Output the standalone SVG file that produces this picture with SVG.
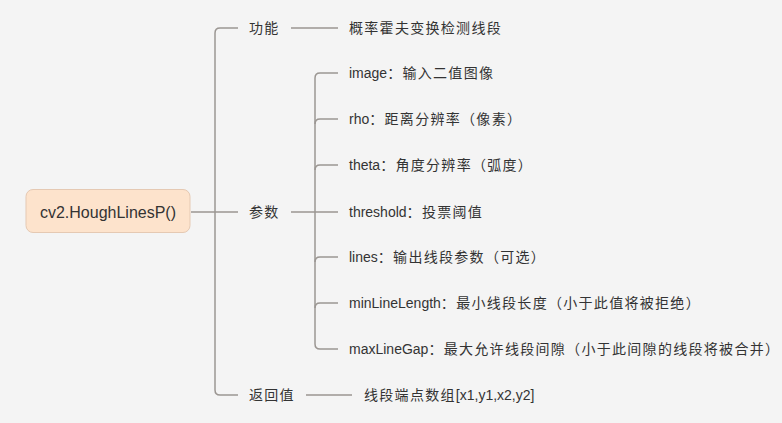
<svg xmlns="http://www.w3.org/2000/svg" width="782" height="423" viewBox="0 0 782 423">
<style>
.c{fill:none;stroke:#9b9692;stroke-width:1.5}
text{font-family:"Liberation Sans","Noto Sans CJK SC",sans-serif;font-size:14px;fill:#333;dominant-baseline:central}
.k{letter-spacing:1.3px}
.r{font-size:16px;text-anchor:middle}
</style>
<rect width="782" height="423" fill="#f4f4f4"/>
<g id="connectors">
<path class="c" d="M191 212H238"/>
<path class="c" d="M238 28H220Q215 28 215 33V390Q215 395 220 395H238"/>
<path class="c" d="M291 28H338"/>
<path class="c" d="M291 212H338"/>
<path class="c" d="M306 395H352"/>
<path class="c" d="M338 73H320Q315 73 315 78V344Q315 349 320 349H338"/>
<path class="c" d="M315 124Q315 119 320 119H338"/>
<path class="c" d="M315 170Q315 165 320 165H338"/>
<path class="c" d="M315 262Q315 257 320 257H338"/>
<path class="c" d="M315 308Q315 303 320 303H338"/>
</g>
<g id="root">
<rect x="26" y="189.5" width="164" height="43" rx="7" fill="#fde3cc" stroke="#e5c9b3" stroke-width="1"/>
<text class="r" x="108" y="212">cv2.HoughLinesP()</text>
</g>
<g id="n-func"><text class="k" x="249" y="28">功能</text></g>
<g id="n-params"><text class="k" x="249" y="212">参数</text></g>
<g id="n-return"><text class="k" x="249" y="395">返回值</text></g>
<g id="n-func-desc"><text class="k" x="349" y="28">概率霍夫变换检测线段</text></g>
<g id="p-image"><text x="349" y="73">image<tspan class="k">：输入二值图像</tspan></text></g>
<g id="p-rho"><text x="349" y="119">rho<tspan class="k">：距离分辨率（像素）</tspan></text></g>
<g id="p-theta"><text x="349" y="165">theta<tspan class="k">：角度分辨率（弧度）</tspan></text></g>
<g id="p-threshold"><text x="349" y="212">threshold<tspan class="k">：投票阈值</tspan></text></g>
<g id="p-lines"><text x="349" y="257">lines<tspan class="k">：输出线段参数（可选）</tspan></text></g>
<g id="p-minlen"><text x="349" y="303">minLineLength<tspan class="k">：最小线段长度（小于此值将被拒绝）</tspan></text></g>
<g id="p-maxgap"><text x="349" y="349">maxLineGap<tspan class="k">：最大允许线段间隙（小于此间隙的线段将被合并）</tspan></text></g>
<g id="n-return-desc"><text x="364" y="395"><tspan class="k">线段端点数组</tspan>[x1,y1,x2,y2]</text></g>
</svg>
